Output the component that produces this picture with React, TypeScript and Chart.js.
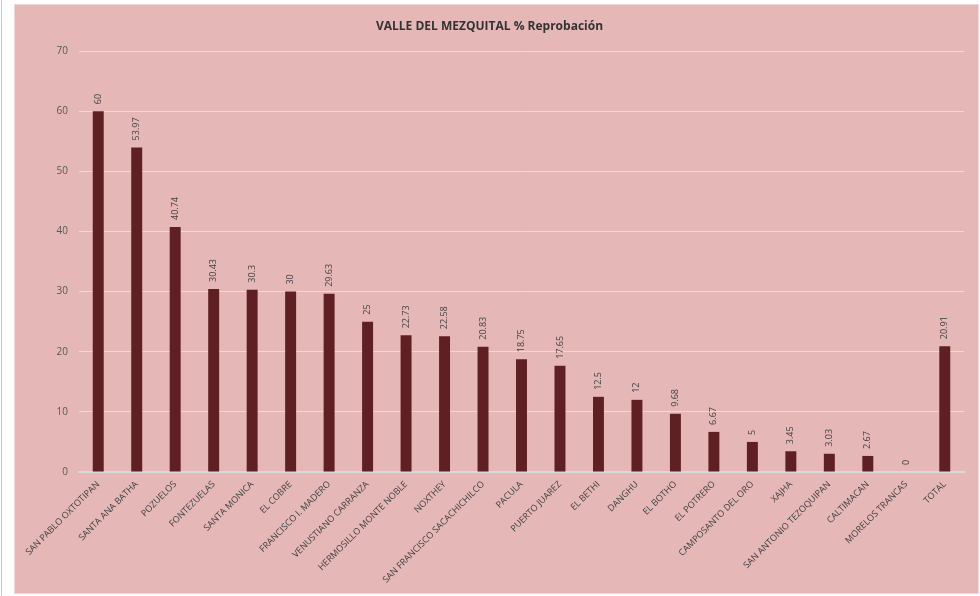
import React, { useEffect, useRef } from "react";
import { Chart, registerables } from "chart.js";

Chart.register(...registerables);

const TITLE = "VALLE DEL MEZQUITAL % Reprobación";

const categories = [
  "SAN PABLO OXTOTIPAN",
  "SANTA ANA BATHA",
  "POZUELOS",
  "FONTEZUELAS",
  "SANTA MONICA",
  "EL COBRE",
  "FRANCISCO I. MADERO",
  "VENUSTIANO CARRANZA",
  "HERMOSILLO MONTE NOBLE",
  "NOXTHEY",
  "SAN FRANCISCO SACACHICHILCO",
  "PACULA",
  "PUERTO JUAREZ",
  "EL BETHI",
  "DANGHU",
  "EL BOTHO",
  "EL POTRERO",
  "CAMPOSANTO DEL ORO",
  "XAJHA",
  "SAN ANTONIO TEZOQUIPAN",
  "CALTIMACAN",
  "MORELOS TRANCAS",
  "TOTAL",
];

const values = [
  60, 53.97, 40.74, 30.43, 30.3, 30, 29.63, 25, 22.73, 22.58, 20.83, 18.75,
  17.65, 12.5, 12, 9.68, 6.67, 5, 3.45, 3.03, 2.67, 0, 20.91,
];

const yTicks = [0, 10, 20, 30, 40, 50, 60, 70];

const FONT = "'Open Sans', 'Noto Sans', sans-serif";

const valueLabels = {
  id: "valueLabels",
  afterDatasetsDraw(chart: any) {
    const ctx = chart.ctx;
    const meta = chart.getDatasetMeta(0);
    ctx.save();
    ctx.fillStyle = "#404040";
    ctx.font = `9px ${FONT}`;
    ctx.textAlign = "left";
    ctx.textBaseline = "middle";
    meta.data.forEach((bar: any, i: number) => {
      ctx.save();
      ctx.translate(bar.x, bar.y - 7);
      ctx.rotate(-Math.PI / 2);
      ctx.fillText(String(values[i]), 0, 0);
      ctx.restore();
    });
    ctx.restore();
  },
};

export default function App() {
  const ref = useRef<HTMLCanvasElement>(null);

  useEffect(() => {
    if (!ref.current) return;
    const chart = new Chart(ref.current, {
      type: "bar",
      data: {
        labels: categories,
        datasets: [
          {
            data: values,
            backgroundColor: "#5f2023",
            barPercentage: 0.57,
            categoryPercentage: 0.5,
          },
        ],
      },
      options: {
        animation: false,
        responsive: false,
        maintainAspectRatio: false,
        layout: { padding: { left: 0, right: 14, top: 0, bottom: 0 } },
        plugins: {
          legend: { display: false },
          tooltip: { enabled: false },
          title: {
            display: true,
            text: TITLE,
            color: "#333333",
            font: { family: FONT, size: 12, weight: "bold" },
            padding: { top: 14, bottom: 17.6 },
          },
        },
        scales: {
          x: {
            grid: { display: false, drawTicks: false },
            border: { display: true, color: "#d9d9d9", width: 2 },
            ticks: {
              autoSkip: false,
              minRotation: 45,
              maxRotation: 45,
              color: "#404040",
              padding: 7,
              font: { family: FONT, size: 9 },
            },
            afterFit: (s: any) => {
              s.height = 121;
            },
          },
          y: {
            min: 0,
            max: 70,
            afterBuildTicks: (s: any) => {
              s.ticks = yTicks.map((v) => ({ value: v }));
            },
            grid: {
              color: "rgba(255,255,255,0.45)",
              lineWidth: 1,
              drawTicks: false,
            },
            border: { display: false },
            ticks: {
              color: "#595959",
              padding: 11,
              font: { family: FONT, size: 10 },
            },
            afterFit: (s: any) => {
              s.width = 64;
            },
          },
        },
      },
      plugins: [valueLabels],
    });
    return () => chart.destroy();
  }, []);

  return (
    <div
      style={{
        position: "fixed",
        left: 0,
        top: 0,
        width: 980,
        height: 596,
        background: "#ffffff",
        overflow: "hidden",
      }}
    >
      <div
        style={{
          position: "absolute",
          left: 1,
          top: 0,
          width: 1,
          height: 596,
          background: "#e8b8b8",
        }}
      />
      <div
        style={{
          position: "absolute",
          left: 14,
          top: 4,
          width: 963,
          height: 588,
          background: "#e5b7b7",
          border: "1px solid #f0d8d8",
        }}
      >
        <canvas ref={ref} width={963} height={588} style={{ display: "block" }} />
      </div>
    </div>
  );
}
